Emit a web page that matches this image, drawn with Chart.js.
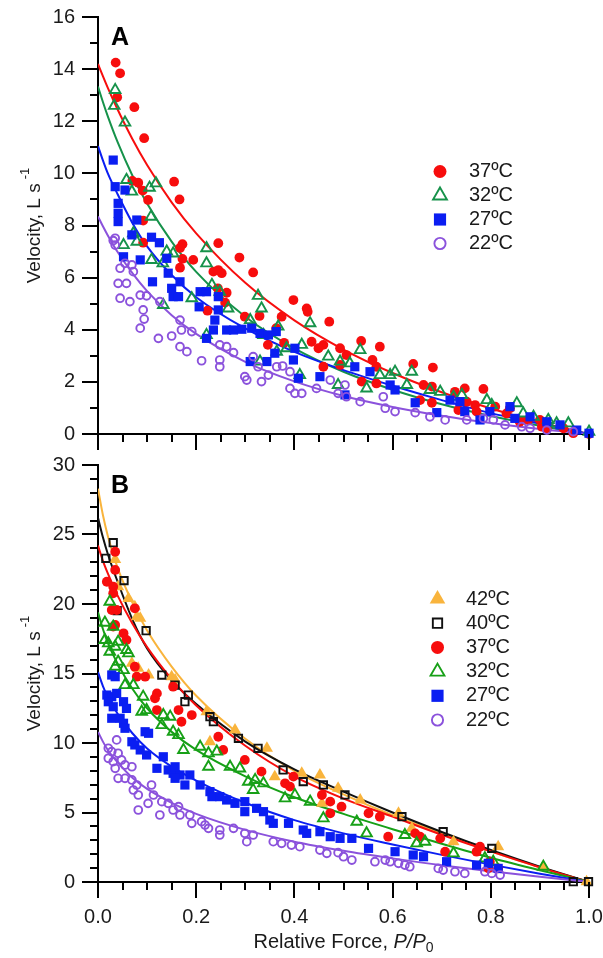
<!DOCTYPE html>
<html><head><meta charset="utf-8">
<script src="https://cdn.jsdelivr.net/npm/chart.js@4/dist/chart.umd.min.js"></script>
<style>
html,body{margin:0;padding:0;background:#fff;width:603px;height:958px;overflow:hidden}
canvas{position:absolute;left:0}
#cA{top:0}
#cB{top:440px}
</style></head><body>
<canvas id="cA" width="603" height="460"></canvas>
<canvas id="cB" width="603" height="518"></canvas>
<script>
// ---------- DATA ----------
// Panel A: [relative force P/P0, velocity L/s]
const A37 = [[0.036,14.25],[0.045,13.84],[0.039,12.92],[0.074,12.54],[0.094,11.35],[0.070,9.71],[0.082,9.64],[0.091,9.34],[0.102,8.98],[0.155,9.68],[0.166,9.00],[0.092,8.19],[0.092,7.34],[0.172,7.28],[0.167,7.14],[0.172,6.72],[0.167,6.38],[0.194,6.68],[0.245,7.32],[0.288,6.77],[0.316,6.20],[0.235,6.23],[0.245,6.29],[0.252,6.17],[0.244,5.59],[0.262,5.42],[0.259,5.04],[0.223,4.73],[0.299,4.50],[0.329,4.53],[0.374,4.50],[0.346,3.42],[0.363,4.06],[0.379,3.50],[0.398,5.14],[0.425,4.82],[0.427,4.69],[0.471,4.31],[0.435,3.54],[0.459,3.42],[0.449,3.29],[0.493,3.29],[0.506,3.03],[0.536,3.57],[0.574,3.35],[0.559,2.84],[0.567,2.58],[0.493,2.65],[0.459,2.58],[0.537,2.01],[0.567,1.94],[0.642,2.69],[0.682,2.55],[0.663,1.88],[0.680,1.82],[0.656,1.30],[0.680,1.20],[0.727,1.62],[0.747,1.75],[0.785,1.73],[0.734,0.92],[0.751,1.24],[0.768,1.11],[0.771,0.86],[0.809,1.05],[0.832,0.79],[0.839,0.99],[0.859,0.47],[0.876,0.54],[0.900,0.54],[0.904,0.28],[0.914,0.22],[0.948,0.22],[0.968,0.03],[1.0,0.0]];
const A32 = [[0.035,13.2],[0.033,12.59],[0.055,11.95],[0.058,9.75],[0.069,9.30],[0.105,9.45],[0.118,9.62],[0.108,8.34],[0.072,7.70],[0.052,7.25],[0.079,7.38],[0.109,6.68],[0.140,7.00],[0.153,6.93],[0.132,6.55],[0.221,7.13],[0.221,6.55],[0.191,5.21],[0.133,4.95],[0.232,5.72],[0.248,5.46],[0.265,4.82],[0.221,3.80],[0.326,5.30],[0.333,4.82],[0.310,4.37],[0.337,3.80],[0.367,4.12],[0.364,3.16],[0.384,3.29],[0.330,2.78],[0.432,4.25],[0.415,3.42],[0.411,2.26],[0.469,2.97],[0.493,2.78],[0.513,2.71],[0.489,1.88],[0.534,3.22],[0.547,1.75],[0.574,2.26],[0.595,2.26],[0.605,2.39],[0.639,2.39],[0.629,1.88],[0.676,1.69],[0.697,1.62],[0.724,1.43],[0.741,1.50],[0.792,1.30],[0.802,1.11],[0.853,1.18],[0.866,0.79],[0.887,0.66],[0.917,0.54],[0.934,0.41],[0.958,0.41],[1.0,0.09]];
const A27 = [[0.031,10.51],[0.035,9.49],[0.055,9.36],[0.041,8.85],[0.041,8.47],[0.041,8.15],[0.079,8.21],[0.069,7.64],[0.109,7.55],[0.052,6.80],[0.086,6.68],[0.125,7.34],[0.140,6.74],[0.143,6.17],[0.111,5.84],[0.167,5.84],[0.150,5.59],[0.153,5.27],[0.164,5.27],[0.208,5.46],[0.221,5.46],[0.245,5.27],[0.206,4.88],[0.245,4.76],[0.238,4.37],[0.235,3.99],[0.221,3.67],[0.262,3.99],[0.276,3.99],[0.293,4.02],[0.313,4.06],[0.330,3.86],[0.347,3.80],[0.363,3.93],[0.310,2.78],[0.344,2.78],[0.360,3.10],[0.398,2.84],[0.401,3.29],[0.408,2.14],[0.452,2.20],[0.503,1.50],[0.523,2.58],[0.554,2.39],[0.595,1.88],[0.605,1.69],[0.646,1.20],[0.690,0.82],[0.717,1.30],[0.737,1.24],[0.747,0.86],[0.778,0.54],[0.798,0.86],[0.839,1.05],[0.849,0.60],[0.880,0.66],[0.914,0.47],[0.941,0.35],[0.975,0.15],[1.0,0.03]];
const A22 = [[0.035,7.51],[0.031,7.42],[0.035,7.25],[0.055,6.55],[0.069,6.49],[0.072,6.23],[0.045,6.36],[0.041,5.78],[0.058,5.78],[0.045,5.21],[0.065,5.08],[0.086,5.33],[0.099,5.30],[0.092,4.76],[0.094,4.41],[0.086,4.06],[0.123,3.67],[0.126,5.08],[0.150,3.76],[0.167,4.37],[0.170,3.99],[0.167,3.35],[0.181,3.16],[0.191,3.93],[0.211,2.81],[0.248,3.42],[0.248,2.84],[0.248,2.58],[0.262,3.35],[0.276,3.12],[0.299,2.20],[0.303,2.07],[0.316,2.97],[0.326,2.58],[0.333,2.01],[0.347,2.26],[0.364,2.58],[0.376,2.61],[0.391,1.75],[0.401,1.56],[0.391,2.39],[0.415,1.56],[0.445,1.75],[0.473,2.07],[0.489,1.56],[0.503,1.88],[0.506,1.43],[0.534,1.24],[0.581,1.43],[0.585,0.99],[0.605,0.86],[0.646,0.82],[0.676,0.66],[0.707,0.54],[0.751,0.54],[0.785,0.60],[0.805,0.54],[0.829,0.35],[0.863,0.28],[0.880,0.22],[0.914,0.15],[0.968,0.09]];

// Panel B
const B42 = [[0.035,23.2],[0.041,21.24],[0.062,20.4],[0.079,19.09],[0.075,19.8],[0.086,18.97],[0.069,15.73],[0.082,15.37],[0.150,14.77],[0.157,14.53],[0.103,14.89],[0.228,10.09],[0.279,10.94],[0.344,9.62],[0.360,7.58],[0.221,12.25],[0.415,7.82],[0.452,7.70],[0.489,6.74],[0.456,5.66],[0.534,5.90],[0.612,4.94],[0.639,3.86],[0.724,2.90],[0.815,2.54],[0.907,1.10],[0.995,0.02]];
const B40 = [[0.031,24.41],[0.016,23.29],[0.053,21.68],[0.039,19.52],[0.098,18.08],[0.130,14.89],[0.157,14.17],[0.184,13.45],[0.177,12.97],[0.228,11.89],[0.235,11.53],[0.286,10.34],[0.326,9.62],[0.377,8.06],[0.418,7.22],[0.459,6.98],[0.503,6.26],[0.619,4.70],[0.703,3.62],[0.802,2.42],[0.968,0.02],[0.999,0.02]];
const B37 = [[0.035,23.76],[0.035,22.45],[0.018,21.6],[0.031,21.24],[0.031,20.77],[0.075,19.69],[0.028,19.57],[0.038,19.57],[0.035,18.49],[0.052,17.89],[0.058,17.41],[0.031,18.37],[0.075,15.49],[0.096,14.77],[0.079,14.77],[0.120,13.57],[0.120,12.37],[0.153,14.05],[0.164,12.37],[0.170,11.53],[0.191,12.01],[0.245,10.45],[0.255,9.50],[0.299,8.78],[0.333,7.94],[0.381,7.10],[0.398,7.58],[0.116,13.22],[0.391,6.86],[0.456,6.26],[0.473,5.78],[0.496,5.42],[0.473,4.94],[0.551,4.94],[0.574,4.70],[0.591,3.26],[0.646,3.50],[0.656,3.26],[0.697,3.14],[0.707,2.18],[0.778,2.54],[0.771,2.18],[0.795,0.98],[0.798,1.46],[0.815,0.98]];
const B32 = [[0.024,20.17],[0.014,18.66],[0.031,18.37],[0.021,17.17],[0.035,16.93],[0.024,16.57],[0.041,17.29],[0.058,16.69],[0.041,15.85],[0.052,15.25],[0.014,17.41],[0.062,16.45],[0.035,15.49],[0.055,14.17],[0.072,14.17],[0.092,13.33],[0.099,12.37],[0.089,12.25],[0.133,12.01],[0.130,11.29],[0.147,11.89],[0.153,10.81],[0.164,10.57],[0.174,9.50],[0.208,9.73],[0.225,9.26],[0.225,8.29],[0.242,9.38],[0.269,8.29],[0.289,8.17],[0.306,7.22],[0.320,7.34],[0.337,7.10],[0.316,6.62],[0.381,6.02],[0.401,6.26],[0.432,5.78],[0.459,4.58],[0.527,4.34],[0.547,3.50],[0.625,3.38],[0.649,2.78],[0.666,2.90],[0.724,2.06],[0.788,1.70],[0.805,1.46],[0.907,1.10]];
const B27 = [[0.028,14.89],[0.035,14.77],[0.018,13.45],[0.028,13.33],[0.038,13.57],[0.021,12.97],[0.031,12.61],[0.052,12.97],[0.058,12.49],[0.028,11.78],[0.045,11.78],[0.052,11.42],[0.055,11.06],[0.069,10.09],[0.075,9.86],[0.096,10.81],[0.086,9.50],[0.099,9.14],[0.120,8.18],[0.143,8.06],[0.153,7.82],[0.167,7.70],[0.157,7.46],[0.187,7.70],[0.177,6.98],[0.208,6.98],[0.228,6.50],[0.232,6.14],[0.248,6.14],[0.262,5.90],[0.279,5.66],[0.299,5.78],[0.299,5.06],[0.323,5.30],[0.337,5.06],[0.350,4.46],[0.357,4.22],[0.388,4.22],[0.103,10.70],[0.133,9.01],[0.157,8.29],[0.418,3.74],[0.425,3.50],[0.452,3.62],[0.473,3.26],[0.493,3.14],[0.517,3.14],[0.551,2.42],[0.605,2.18],[0.642,1.94],[0.663,1.82],[0.710,1.46],[0.771,1.22],[0.795,1.34],[0.815,0.98]];
const B22 = [[0.038,10.22],[0.021,9.62],[0.028,9.38],[0.041,9.26],[0.021,8.90],[0.031,8.66],[0.048,8.78],[0.035,8.18],[0.055,8.42],[0.069,8.29],[0.041,7.46],[0.055,7.46],[0.069,7.34],[0.079,6.98],[0.072,6.62],[0.082,6.26],[0.109,6.98],[0.102,5.66],[0.082,5.18],[0.113,6.26],[0.130,5.78],[0.143,5.66],[0.126,4.82],[0.153,5.18],[0.164,5.42],[0.167,4.82],[0.187,4.82],[0.191,4.22],[0.211,4.34],[0.218,4.10],[0.225,3.86],[0.248,3.74],[0.248,3.38],[0.276,3.86],[0.299,3.50],[0.303,2.90],[0.316,3.38],[0.357,2.90],[0.374,2.78],[0.394,2.66],[0.411,2.54],[0.452,2.30],[0.466,2.06],[0.489,2.11],[0.500,1.82],[0.517,1.58],[0.564,1.46],[0.585,1.58],[0.595,1.46],[0.612,1.34],[0.625,1.22],[0.635,1.10],[0.693,0.98],[0.703,0.86],[0.727,0.74],[0.747,0.62],[0.788,0.74],[0.802,0.62],[0.819,0.50]];

// Fitted curves, read at these relative forces
const fitP   = [0, 0.01, 0.02, 0.04, 0.07, 0.1, 0.15, 0.2, 0.3, 0.4, 0.5, 0.6, 0.7, 0.8, 0.9, 1.0];
const fitA37 = [14.2, 13.73, 13.28, 12.45, 11.32, 10.32, 8.89, 7.70, 5.80, 4.36, 3.24, 2.34, 1.60, 0.98, 0.45, 0];
const fitA32 = [13.33, 12.74, 12.19, 11.20, 9.92, 8.84, 7.38, 6.22, 4.50, 3.29, 2.39, 1.70, 1.14, 0.69, 0.32, 0];
const fitA27 = [11.05, 10.5, 10.0, 9.2, 8.1, 7.2, 6.1, 5.25, 4.05, 3.15, 2.45, 1.85, 1.3, 0.8, 0.4, 0];
const fitA22 = [8.35, 7.97, 7.62, 6.98, 6.17, 5.48, 4.56, 3.84, 2.77, 2.02, 1.46, 1.04, 0.70, 0.42, 0.19, 0];
const fitB42 = [28.3, 26.4, 24.9, 22.6, 20.1, 18.1, 15.5, 13.4, 10.3, 8.0, 6.3, 4.8, 3.5, 2.2, 1.05, 0];
const fitB40 = [26.2, 24.8, 23.6, 21.6, 18.9, 16.8, 14.5, 12.8, 10.1, 8.1, 6.5, 5.0, 3.6, 2.3, 1.1, 0];
const fitB37 = [24.2, 23.1, 22.2, 20.6, 18.6, 16.9, 14.6, 12.7, 9.8, 7.6, 6.0, 4.7, 3.4, 2.2, 1.05, 0];
const fitB32 = [19.4, 18.2, 17.2, 15.7, 13.9, 12.5, 10.8, 9.5, 7.6, 6.1, 4.9, 3.8, 2.75, 1.75, 0.85, 0];
const fitB27 = [15.1, 14.1, 13.3, 12.1, 10.7, 9.6, 8.3, 7.3, 5.7, 4.45, 3.5, 2.7, 1.95, 1.25, 0.6, 0];
const fitB22 = [10.8, 10.1, 9.5, 8.6, 7.5, 6.7, 5.7, 4.9, 3.75, 2.9, 2.25, 1.7, 1.2, 0.78, 0.38, 0];

const labelsA = ['37ºC', '32ºC', '27ºC', '22ºC'];
const labelsB = ['42ºC', '40ºC', '37ºC', '32ºC', '27ºC', '22ºC'];
const xTickLabels = ['0.0', '0.2', '0.4', '0.6', '0.8', '1.0'];

// ---------- STYLES ----------
const FONT = '"Liberation Sans", Arial, Helvetica, sans-serif';
const C = {red:'#f70d0d', greenA:'#16924a', greenB:'#17a017', blue:'#0a1ef2', purple:'#8b52dc', orange:'#f9b43c', black:'#111111'};
const M = {
  dot:   {pointStyle:'circle',   r:4.9, fill:true,  bw:0,   lr:6.5},
  tri:   {pointStyle:'triangle', r:6.1, fill:false, bw:1.9, lr:8.0},
  sq:    {pointStyle:'rect',     r:6.5, fill:true,  bw:0,   lr:8.6},
  ring:  {pointStyle:'circle',   r:3.9, fill:false, bw:1.9, lr:5.6},
  triF:  {pointStyle:'triangle', r:7.0, fill:true,  bw:0,   lr:9.0},
  sqO:   {pointStyle:'rect',     r:5.2, fill:false, bw:1.9, lr:6.6}
};

Chart.defaults.font.family = FONT;
Chart.defaults.font.size = 20;
Chart.defaults.color = '#1a1a1a';

function pts(arr){ return arr.map(p => ({x:p[0], y:p[1]})); }
function curve(vals){ return fitP.map((x,i) => ({x, y: vals[i]})); }
function scatterDS(arr, color, m){
  return {data: pts(arr), showLine:false, pointStyle:m.pointStyle, pointRadius:m.r, pointHoverRadius:m.r,
    backgroundColor: m.fill ? color : 'rgba(0,0,0,0)', borderColor: color, pointBorderWidth: m.bw, borderWidth: m.bw, clip:false};
}
function lineDS(vals, color){
  return {data: curve(vals), showLine:true, pointRadius:0, borderColor: color, borderWidth:2,
    cubicInterpolationMode:'monotone', fill:false, backgroundColor: color};
}

const hiddenGrid = {display:true, drawOnChartArea:false, drawTicks:true, tickLength:16, color:'rgba(0,0,0,0)'};
const axisBorder = {display:true, color:'#000', width:2};

// ticks, titles, legend, panel letter
const decor = {
  id:'decor',
  afterDraw(chart, args, o){
    const ctx = chart.ctx, xs = chart.scales.x, ys = chart.scales.y;
    const yBase = ys.getPixelForValue(ys.min), xBase = xs.getPixelForValue(xs.min);
    ctx.save();
    ctx.strokeStyle = '#000'; ctx.lineWidth = 2; ctx.lineCap = 'butt';
    ctx.beginPath();
    for (let i = 0; i <= 20; i++) {
      const px = Math.round(xs.getPixelForValue(i * 0.05));
      const len = (i % 4 === 0) ? 16 : 8;
      ctx.moveTo(px, yBase); ctx.lineTo(px, yBase + len);
    }
    for (let v = ys.min; v <= ys.max; v += 1) {
      const py = Math.round(ys.getPixelForValue(v));
      const len = (v % o.yMajor === 0) ? 16 : 8;
      ctx.moveTo(xBase, py); ctx.lineTo(xBase - len, py);
    }
    ctx.stroke();

    // panel letter
    ctx.fillStyle = '#000';
    ctx.font = 'bold 25px ' + FONT;
    ctx.textAlign = 'left'; ctx.textBaseline = 'alphabetic';
    ctx.fillText(o.letter, xBase + 13, chart.chartArea.top + 28);

    // y title
    const cy = (chart.chartArea.top + chart.chartArea.bottom) / 2;
    ctx.save();
    ctx.translate(35, cy); ctx.rotate(-Math.PI / 2);
    ctx.fillStyle = '#1a1a1a';
    ctx.font = '19px ' + FONT;
    const main = 'Velocity, L s';
    const w1 = ctx.measureText(main).width;
    ctx.font = '13px ' + FONT;
    const w2 = ctx.measureText('-1').width;
    const tot = w1 + 4 + w2;
    ctx.textBaseline = 'middle'; ctx.textAlign = 'left';
    ctx.font = '19px ' + FONT; ctx.fillText(main, -tot / 2, 0);
    ctx.font = '13px ' + FONT; ctx.fillText('-1', -tot / 2 + w1 + 4, -10);
    ctx.restore();

    // x title
    if (o.xTitle) {
      const cx = (chart.chartArea.left + chart.chartArea.right) / 2;
      const ty = o.xTitleY;
      const a = 'Relative Force, ', b = 'P/P', c = '0';
      ctx.font = '20px ' + FONT; const wa = ctx.measureText(a).width;
      ctx.font = 'italic 20px ' + FONT; const wb = ctx.measureText(b).width;
      ctx.font = '14px ' + FONT; const wc = ctx.measureText(c).width;
      let x = cx - (wa + wb + wc) / 2;
      ctx.textAlign = 'left'; ctx.textBaseline = 'alphabetic'; ctx.fillStyle = '#1a1a1a';
      ctx.font = '20px ' + FONT; ctx.fillText(a, x, ty); x += wa;
      ctx.font = 'italic 20px ' + FONT; ctx.fillText(b, x, ty); x += wb;
      ctx.font = '14px ' + FONT; ctx.fillText(c, x, ty + 4);
    }

    // legend
    o.legend.forEach((it, i) => {
      const y = o.legY + i * o.legDy;
      const m = it.m;
      ctx.fillStyle = m.fill ? it.color : 'rgba(0,0,0,0)';
      ctx.strokeStyle = it.color;
      ctx.lineWidth = m.bw;
      Chart.helpers.drawPoint(ctx, {pointStyle:m.pointStyle, radius:m.lr, borderWidth:m.bw, rotation:0}, o.legX, y);
      ctx.fillStyle = '#1a1a1a';
      ctx.font = '20px ' + FONT; ctx.textAlign = 'left'; ctx.textBaseline = 'middle';
      ctx.fillText(it.label, o.legTx, y);
    });
    ctx.restore();
  }
};

// ---------- PANEL A ----------
new Chart(document.getElementById('cA'), {
  type:'scatter',
  data:{datasets:[
    scatterDS(A22, C.purple, M.ring),
    scatterDS(A27, C.blue, M.sq),
    scatterDS(A32, C.greenA, M.tri),
    scatterDS(A37, C.red, M.dot),
    lineDS(fitA22, C.purple),
    lineDS(fitA27, C.blue),
    lineDS(fitA32, C.greenA),
    lineDS(fitA37, C.red)
  ]},
  options:{
    responsive:false, animation:false, events:[],
    layout:{padding:{top:17, right:14, bottom:0, left:0}},
    plugins:{legend:{display:false}, tooltip:{enabled:false},
      decor:{letter:'A', yMajor:2, xTitle:false,
        legX:440, legTx:469, legY:171.5, legDy:24,
        legend:[
          {label:labelsA[0], color:C.red, m:M.dot},
          {label:labelsA[1], color:C.greenA, m:M.tri},
          {label:labelsA[2], color:C.blue, m:M.sq},
          {label:labelsA[3], color:C.purple, m:M.ring}
        ]}},
    scales:{
      x:{type:'linear', min:0, max:1, ticks:{display:false, stepSize:0.2}, grid:hiddenGrid, border:axisBorder,
        afterFit(s){ s.height = 26; s.paddingLeft = 0; s.paddingRight = 0; }},
      y:{type:'linear', min:0, max:16, ticks:{stepSize:2, padding:7, font:{size:20}}, grid:hiddenGrid, border:axisBorder,
        afterFit(s){ s.width = 98; s.paddingTop = 0; s.paddingBottom = 0; }}
    }
  },
  plugins:[decor]
});

// ---------- PANEL B ----------
new Chart(document.getElementById('cB'), {
  type:'scatter',
  data:{datasets:[
    scatterDS(B22, C.purple, M.ring),
    scatterDS(B27, C.blue, M.sq),
    scatterDS(B32, C.greenB, M.tri),
    scatterDS(B37, C.red, M.dot),
    scatterDS(B40, C.black, M.sqO),
    scatterDS(B42, C.orange, M.triF),
    lineDS(fitB22, C.purple),
    lineDS(fitB27, C.blue),
    lineDS(fitB32, C.greenB),
    lineDS(fitB37, C.red),
    lineDS(fitB40, C.black),
    lineDS(fitB42, C.orange)
  ]},
  options:{
    responsive:false, animation:false, events:[],
    layout:{padding:{top:25, right:14, bottom:0, left:0}},
    plugins:{legend:{display:false}, tooltip:{enabled:false},
      decor:{letter:'B', yMajor:5, xTitle:true, xTitleY:508,
        legX:437.5, legTx:466, legY:159, legDy:24.2,
        legend:[
          {label:labelsB[0], color:C.orange, m:M.triF},
          {label:labelsB[1], color:C.black, m:M.sqO},
          {label:labelsB[2], color:C.red, m:M.dot},
          {label:labelsB[3], color:C.greenB, m:M.tri},
          {label:labelsB[4], color:C.blue, m:M.sq},
          {label:labelsB[5], color:C.purple, m:M.ring}
        ]}},
    scales:{
      x:{type:'linear', min:0, max:1,
        ticks:{stepSize:0.2, padding:7, font:{size:20}, callback:(v, i) => xTickLabels[Math.round(v / 0.2)] ?? ''},
        grid:hiddenGrid, border:axisBorder,
        afterFit(s){ s.height = 76; s.paddingLeft = 0; s.paddingRight = 0; }},
      y:{type:'linear', min:0, max:30, ticks:{stepSize:5, padding:7, font:{size:20}}, grid:hiddenGrid, border:axisBorder,
        afterFit(s){ s.width = 98; s.paddingTop = 0; s.paddingBottom = 0; }}
    }
  },
  plugins:[decor]
});
</script>
</body></html>
